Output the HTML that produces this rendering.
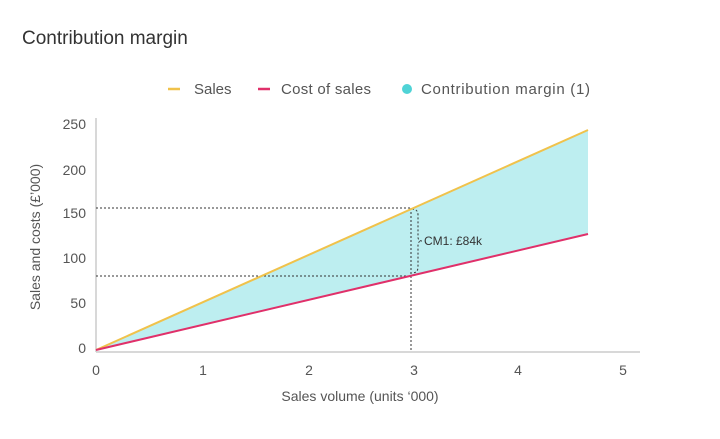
<!DOCTYPE html>
<html><head><meta charset="utf-8"><style>
body{margin:0;background:#fff;width:720px;height:434px;overflow:hidden}
text{font-family:"Liberation Sans",sans-serif;fill:#555}
</style></head><body>
<svg width="720" height="434" viewBox="0 0 720 434">
<text x="22" y="44" font-size="19" style="fill:#333">Contribution margin</text>
<line x1="168" y1="89" x2="180" y2="89" stroke="#f0c24b" stroke-width="2.5"/>
<text x="194" y="94" font-size="15">Sales</text>
<line x1="258" y1="89" x2="270" y2="89" stroke="#e0306a" stroke-width="2.5"/>
<text x="281" y="94" font-size="15" textLength="90">Cost of sales</text>
<circle cx="407" cy="89" r="5" fill="#4fd3d6"/>
<text x="421" y="94" font-size="15" textLength="169">Contribution margin (1)</text>
<polygon points="96,350 588,130 588,234" fill="#bdeef0"/>
<line x1="96" y1="118" x2="96" y2="352" stroke="#ccc" stroke-width="1.5"/>
<line x1="96" y1="352" x2="640" y2="352" stroke="#ccc" stroke-width="1.5"/>
<g stroke="#333" stroke-width="1" stroke-dasharray="2,2" fill="none">
<line x1="96" y1="208" x2="411" y2="208"/>
<line x1="96" y1="276" x2="411" y2="276"/>
<line x1="411" y1="208" x2="411" y2="352"/>
<path d="M412,209 q6,0 6,6 v22 q0,4 4,4 q-4,0 -4,4 v22 q0,6 -6,6"/>
</g>
<line x1="96" y1="350" x2="588" y2="130" stroke="#f0c24b" stroke-width="2"/>
<line x1="96" y1="350" x2="588" y2="234" stroke="#e0306a" stroke-width="2"/>
<text x="424" y="245" font-size="12" style="fill:#333">CM1: £84k</text>
<g font-size="14" text-anchor="end">
<text x="86" y="129">250</text><text x="86" y="175">200</text><text x="86" y="218">150</text>
<text x="86" y="263">100</text><text x="86" y="308">50</text><text x="86" y="353">0</text>
</g>
<g font-size="14" text-anchor="middle">
<text x="96" y="375">0</text><text x="203" y="375">1</text><text x="309" y="375">2</text>
<text x="414" y="375">3</text><text x="518" y="375">4</text><text x="623" y="375">5</text>
<text x="360" y="401">Sales volume (units ‘000)</text>
<text transform="translate(40,237) rotate(-90)">Sales and costs (£’000)</text>
</g>
</svg>
</body></html>
